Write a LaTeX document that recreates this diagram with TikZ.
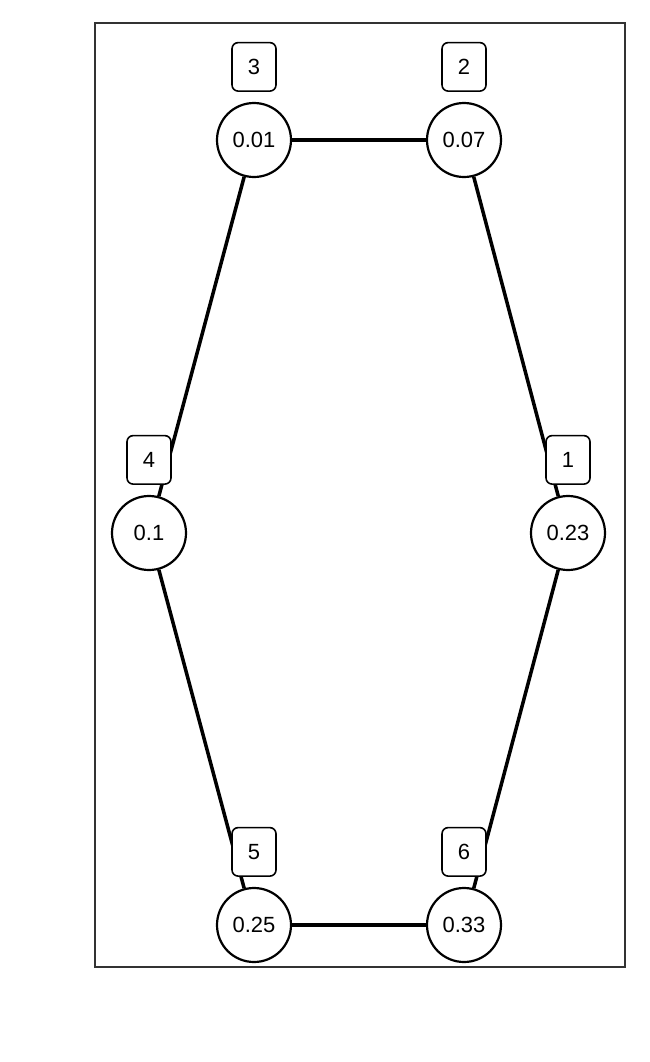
\documentclass[tikz,border=0pt]{standalone}
\usepackage{fontspec}
\setmainfont{Liberation Sans}
\usetikzlibrary{positioning}
\definecolor{FrameGray}{HTML}{333333}

\begin{document}
\begin{tikzpicture}[node distance=.2cm,
    state/.style={circle,draw,line width=1.25pt,minimum size=1.48cm,inner sep=0pt,
                  font=\fontsize{12.5}{14}\selectfont,fill=white},
    tag/.style={rectangle,rounded corners=3.5pt,draw,line width=.9pt,fill=white,
                minimum width=.88cm,minimum height=.97cm,inner sep=0pt,
                font=\fontsize{12.5}{14}\selectfont},
    edge/.style={line width=2pt}]
    \useasboundingbox (0,0) rectangle (12.98,-21.24);
    \draw[FrameGray,line width=.85pt] (1.90,-0.46) rectangle (12.50,-19.34);
    \node[state] (s3) at (5.08,-2.80) {0.01};
    \node[state] (s2) at (9.28,-2.80) {0.07};
    \node[state] (s4) at (2.98,-10.66) {0.1};
    \node[state] (s1) at (11.36,-10.66) {0.23};
    \node[state] (s5) at (5.08,-18.50) {0.25};
    \node[state] (s6) at (9.28,-18.50) {0.33};
    \draw[edge] (s3)--(s2);
    \draw[edge] (s2)--(s1);
    \draw[edge] (s1)--(s6);
    \draw[edge] (s6)--(s5);
    \draw[edge] (s5)--(s4);
    \draw[edge] (s4)--(s3);
    \node[tag,above=of s1] (t1) {1};
    \node[tag,above=of s2] (t2) {2};
    \node[tag,above=of s3] (t3) {3};
    \node[tag,above=of s4] (t4) {4};
    \node[tag,above=of s5] (t5) {5};
    \node[tag,above=of s6] (t6) {6};
  \end{tikzpicture}
\end{document}
